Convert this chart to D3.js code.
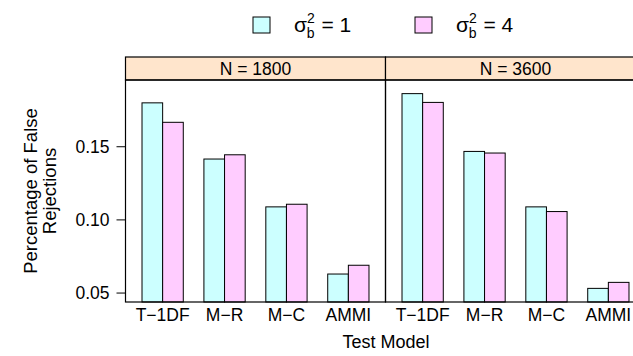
<!DOCTYPE html>
<html>
<head>
<meta charset="utf-8">
<script src="https://cdn.jsdelivr.net/npm/d3@7"></script>
<style>
  body { margin: 0; background: #fff; }
  text { font-family: "Liberation Sans", Arial, Helvetica, sans-serif; fill: #000; }
</style>
</head>
<body>
<svg id="chart" width="633" height="356"></svg>
<script>
// data
const panels = ['N = 1800', 'N = 3600'];
const models = ['T\u22121DF', 'M\u2212R', 'M\u2212C', 'AMMI'];
const groups = ['1', '4'];
const sigma1 = [[0.180, 0.1416, 0.1089, 0.063], [0.1863, 0.1468, 0.1089, 0.0532]];
const sigma4 = [[0.1667, 0.1445, 0.1107, 0.069], [0.1803, 0.1457, 0.1057, 0.0573]];
const yTicks = [0.05, 0.10, 0.15];
const colors = ['#CCFFFF', '#FFCCFF'];

const svg = d3.select('#chart');

// layout
const panelLeft = 125.5;
const panelWidth = 260;
const stripTop = 57;
const stripBottom = 80;
const panelBottom = 302;
const fs = 17.5;

// lattice-style extended range of the data
const all = sigma1.flat().concat(sigma4.flat());
const ext = d3.extent(all);
const pad = (ext[1] - ext[0]) * 0.07;
const y = d3.scaleLinear()
    .domain([ext[0] - pad, ext[1] + pad])
    .range([panelBottom, stripBottom]);

// x: factor positions 1..4 inside limits 0.4..4.6
const xUnit = d3.scaleLinear().domain([0.4, 4.6]).range([0, panelWidth]);
const unit = xUnit(1) - xUnit(0);
const boxW = unit * 2 / 3;

panels.forEach((p, pi) => {
    const g = svg.append('g')
        .attr('transform', `translate(${panelLeft + pi * panelWidth},0)`);

    // strip
    g.append('rect')
        .attr('x', 0).attr('y', stripTop)
        .attr('width', panelWidth).attr('height', stripBottom - stripTop)
        .attr('fill', '#FFE5CC')
        .attr('stroke', '#000').attr('stroke-width', 1.2);
    g.append('text')
        .attr('x', panelWidth / 2).attr('y', (stripTop + stripBottom) / 2)
        .attr('dy', '0.36em')
        .attr('text-anchor', 'middle')
        .attr('font-size', fs)
        .text(p);

    // bars
    models.forEach((m, mi) => {
        const cx = xUnit(mi + 1);
        [sigma1[pi][mi], sigma4[pi][mi]].forEach((v, si) => {
            g.append('rect')
                .attr('x', cx - boxW / 2 + si * boxW / 2)
                .attr('y', y(v))
                .attr('width', boxW / 2)
                .attr('height', panelBottom - y(v))
                .attr('fill', colors[si])
                .attr('stroke', '#000').attr('stroke-width', 1);
        });
        g.append('text')
            .attr('x', cx).attr('y', 321)
            .attr('text-anchor', 'middle')
            .attr('font-size', fs)
            .text(m);
    });

    // panel border
    g.append('rect')
        .attr('x', 0).attr('y', stripBottom)
        .attr('width', panelWidth).attr('height', panelBottom - stripBottom)
        .attr('fill', 'none')
        .attr('stroke', '#000').attr('stroke-width', 1.2);
});

// y axis
const yAxis = svg.append('g');
yTicks.forEach(t => {
    yAxis.append('line')
        .attr('x1', panelLeft - 9).attr('x2', panelLeft)
        .attr('y1', y(t)).attr('y2', y(t))
        .attr('stroke', '#000');
    yAxis.append('text')
        .attr('x', panelLeft - 16).attr('y', y(t))
        .attr('dy', '0.36em')
        .attr('text-anchor', 'end')
        .attr('font-size', fs)
        .text(d3.format('.2f')(t));
});

// axis titles
const yMid = (stripBottom + panelBottom) / 2;
svg.append('text')
    .attr('transform', `translate(37,${yMid}) rotate(-90)`)
    .attr('text-anchor', 'middle')
    .attr('font-size', 18.5)
    .text('Percentage of False');
svg.append('text')
    .attr('transform', `translate(56,${yMid}) rotate(-90)`)
    .attr('text-anchor', 'middle')
    .attr('font-size', 18.5)
    .text('Rejections');
svg.append('text')
    .attr('x', 386).attr('y', 348)
    .attr('text-anchor', 'middle')
    .attr('font-size', 18)
    .text('Test Model');

// legend
const legendX = [253, 415];
groups.forEach((gv, i) => {
    const lg = svg.append('g').attr('transform', `translate(${legendX[i]},0)`);
    lg.append('rect')
        .attr('x', 0).attr('y', 17)
        .attr('width', 17).attr('height', 16)
        .attr('fill', colors[i])
        .attr('stroke', '#000').attr('stroke-width', 1);
    const t = lg.append('text')
        .attr('x', 41).attr('y', 32)
        .attr('font-size', 21);
    t.append('tspan').text('\u03c3');
    t.append('tspan').attr('font-size', 14).attr('dy', -9).text('2');
    t.append('tspan').attr('font-size', 14).attr('dx', -8).attr('dy', 15).text('b');
    t.append('tspan').attr('dx', 1).attr('dy', -6).text(` = ${gv}`);
});
</script>
</body>
</html>
